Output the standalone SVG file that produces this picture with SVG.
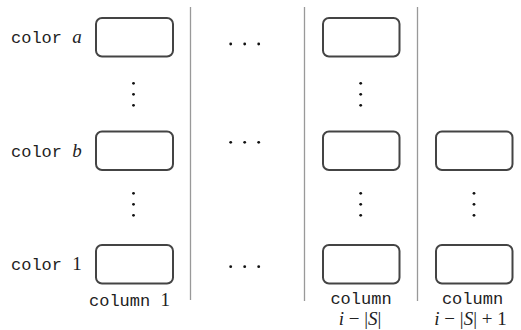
<svg xmlns="http://www.w3.org/2000/svg" width="521" height="330" viewBox="0 0 521 330">
<style>
.box{fill:#fff;stroke:#444;stroke-width:2}
.sep{stroke:#999;stroke-width:1.3}
.mono{font-family:"Liberation Mono","DejaVu Sans Mono",monospace;font-size:17px;fill:#222}
.math{font-family:"Liberation Serif","DejaVu Serif",serif;font-size:19px;fill:#222}
.it{font-style:italic}
.dot{fill:#111}
</style>
<defs>
<g id="vd"><circle cx="0" cy="0" r="1.4"/><circle cx="0" cy="11" r="1.4"/><circle cx="0" cy="22" r="1.4"/></g>
<g id="hd"><circle cx="0" cy="0" r="1.4"/><circle cx="14" cy="0" r="1.4"/><circle cx="28" cy="0" r="1.4"/></g>
</defs>
<rect width="521" height="330" fill="#fff"/>
<g id="separators">
<line class="sep" x1="190.5" y1="7" x2="190.5" y2="300"/>
<line class="sep" x1="304.5" y1="7" x2="304.5" y2="301"/>
<line class="sep" x1="417.5" y1="7" x2="417.5" y2="301"/>
</g>
<g id="row-labels">
<text class="mono" x="11" y="43">color <tspan class="math it" font-size="19">a</tspan></text>
<text class="mono" x="11" y="157">color <tspan class="math it" font-size="19">b</tspan></text>
<text class="mono" x="11" y="270">color <tspan class="math" font-size="19">1</tspan></text>
</g>
<g id="col1">
<rect id="c1-a" class="box" x="96" y="18" width="77" height="38.5" rx="6"/>
<rect id="c1-b" class="box" x="96" y="131.5" width="77" height="38.5" rx="6"/>
<rect id="c1-1" class="box" x="96" y="245" width="77" height="38.5" rx="6"/>
<use href="#vd" x="133.5" y="83.3" class="dot"/>
<use href="#vd" x="133.5" y="193.3" class="dot"/>
<text class="mono" x="89" y="306">column <tspan class="math" font-size="19">1</tspan></text>
</g>
<g id="middle-dots" class="dot">
<use href="#hd" x="230.7" y="44"/>
<use href="#hd" x="230.7" y="142.3"/>
<use href="#hd" x="230.7" y="266.7"/>
</g>
<g id="col2">
<rect id="c2-a" class="box" x="323" y="18" width="76.5" height="38.5" rx="6"/>
<rect id="c2-b" class="box" x="323" y="131.5" width="76.5" height="38.5" rx="6"/>
<rect id="c2-1" class="box" x="323" y="245" width="76.5" height="38.5" rx="6"/>
<use href="#vd" x="360.7" y="83.3" class="dot"/>
<use href="#vd" x="360.7" y="193.3" class="dot"/>
<text class="mono" x="361" y="304" text-anchor="middle">column</text>
<text class="math" x="360" y="325" text-anchor="middle"><tspan class="it">i</tspan> − |<tspan class="it">S</tspan>|</text>
</g>
<g id="col3">
<rect id="c3-b" class="box" x="436" y="131.5" width="76.5" height="38.5" rx="6"/>
<rect id="c3-1" class="box" x="436" y="245" width="76.5" height="38.5" rx="6"/>
<use href="#vd" x="474" y="193.3" class="dot"/>
<text class="mono" x="472.5" y="304" text-anchor="middle">column</text>
<text class="math" x="470.5" y="325" text-anchor="middle"><tspan class="it">i</tspan> − |<tspan class="it">S</tspan>| + 1</text>
</g>
</svg>
